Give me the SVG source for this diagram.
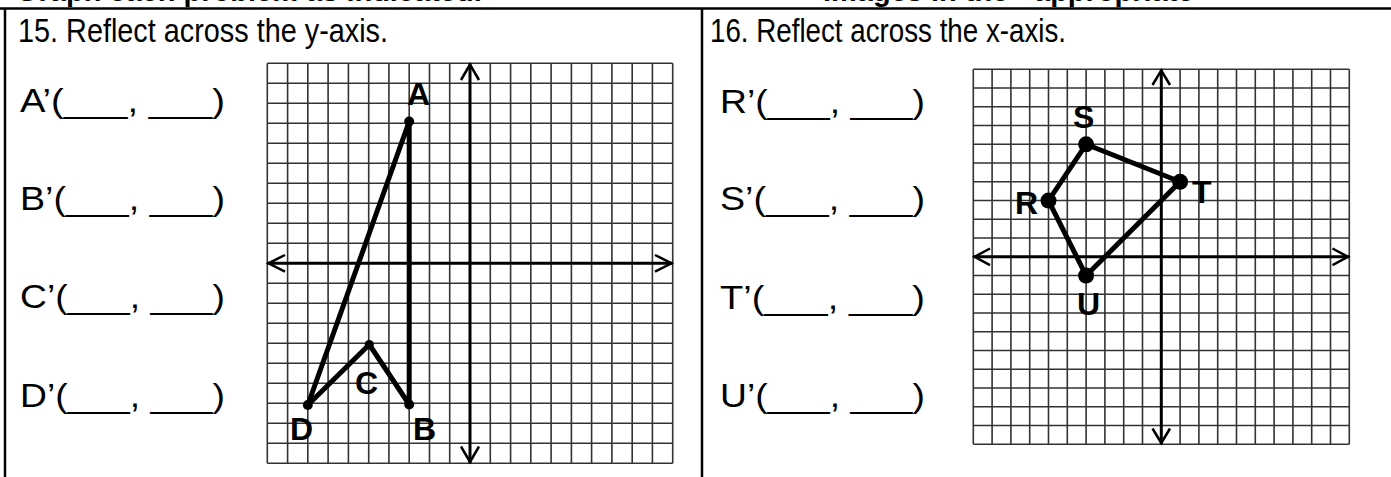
<svg xmlns="http://www.w3.org/2000/svg" width="1391" height="477" viewBox="0 0 1391 477">
<style>
.t{font-family:"Liberation Sans",Arial,sans-serif;font-size:33px;fill:#000}
.hd{font-family:"Liberation Sans",Arial,sans-serif;font-size:29px;font-weight:bold;fill:#000}
.lb{font-family:"Liberation Sans",Arial,sans-serif;font-size:32px;font-weight:bold;fill:#000}
.grid{fill:none;stroke:#333;stroke-width:1.6}
.axis{fill:none;stroke:#000;stroke-width:3}
.arr{fill:none;stroke:#000;stroke-width:2.5;stroke-linejoin:miter}
.fig{fill:none;stroke:#000;stroke-width:5;stroke-linejoin:round;stroke-linecap:round}
.frame{fill:none;stroke:#000;stroke-width:2.5}
</style>
<rect x="0" y="0" width="1391" height="477" fill="#fff"/>
<g id="header">
<text class="hd" x="16" y="1">Graph each problem as indicated.</text>
<text class="hd" x="823" y="1">images in the</text>
<text class="hd" x="1034" y="1">appropriate</text>
</g>
<g id="frame">
<path class="frame" d="M0,8.5 H1391 M5,8 V477 M702,8 V477"/>
</g>
<g id="left-panel">
<text class="t" x="18" y="42" textLength="370" lengthAdjust="spacingAndGlyphs">15. Reflect across the y-axis.</text>
<text class="t" x="20" y="112" textLength="205" lengthAdjust="spacingAndGlyphs">A’(___, ___)</text>
<text class="t" x="20" y="210" textLength="205" lengthAdjust="spacingAndGlyphs">B’(___, ___)</text>
<text class="t" x="20" y="308" textLength="205" lengthAdjust="spacingAndGlyphs">C’(___, ___)</text>
<text class="t" x="20" y="407" textLength="205" lengthAdjust="spacingAndGlyphs">D’(___, ___)</text>
</g>
<g id="right-panel">
<text class="t" x="710" y="42" textLength="356" lengthAdjust="spacingAndGlyphs">16. Reflect across the x-axis.</text>
<text class="t" x="720" y="113" textLength="205" lengthAdjust="spacingAndGlyphs">R’(___, ___)</text>
<text class="t" x="720" y="210" textLength="205" lengthAdjust="spacingAndGlyphs">S’(___, ___)</text>
<text class="t" x="720" y="309" textLength="205" lengthAdjust="spacingAndGlyphs">T’(___, ___)</text>
<text class="t" x="720" y="407" textLength="205" lengthAdjust="spacingAndGlyphs">U’(___, ___)</text>
</g>
<g id="grid-left">
<path class="grid" d="M267.3,63.3V463.3M287.6,63.3V463.3M307.8,63.3V463.3M328.1,63.3V463.3M348.4,63.3V463.3M368.7,63.3V463.3M388.9,63.3V463.3M409.2,63.3V463.3M429.5,63.3V463.3M449.7,63.3V463.3M490.3,63.3V463.3M510.6,63.3V463.3M530.8,63.3V463.3M551.1,63.3V463.3M571.4,63.3V463.3M591.6,63.3V463.3M611.9,63.3V463.3M632.2,63.3V463.3M652.4,63.3V463.3M672.7,63.3V463.3
M267.3,63.3H672.7M267.3,83.3H672.7M267.3,103.3H672.7M267.3,123.3H672.7M267.3,143.3H672.7M267.3,163.3H672.7M267.3,183.3H672.7M267.3,203.3H672.7M267.3,223.3H672.7M267.3,243.3H672.7M267.3,283.3H672.7M267.3,303.3H672.7M267.3,323.3H672.7M267.3,343.3H672.7M267.3,363.3H672.7M267.3,383.3H672.7M267.3,403.3H672.7M267.3,423.3H672.7M267.3,443.3H672.7M267.3,463.3H672.7"/>
<path class="axis" d="M267.3,263.3H672.7M470,63.3V463.3"/>
<path class="arr" d="M285,255L268.5,263.3L285,271.6M655,255L671.5,263.3L655,271.6M461,80L470,64.5L479,80M461,446.5L470,462L479,446.5"/>
</g>
<g id="grid-right">
<path class="grid" d="M973.3,69.3V444.3M992.1,69.3V444.3M1010.9,69.3V444.3M1029.7,69.3V444.3M1048.5,69.3V444.3M1067.3,69.3V444.3M1086.1,69.3V444.3M1104.9,69.3V444.3M1123.7,69.3V444.3M1142.5,69.3V444.3M1180.1,69.3V444.3M1198.9,69.3V444.3M1217.7,69.3V444.3M1236.5,69.3V444.3M1255.3,69.3V444.3M1274.1,69.3V444.3M1292.9,69.3V444.3M1311.7,69.3V444.3M1330.5,69.3V444.3M1349.3,69.3V444.3
M973.3,69.3H1349.3M973.3,88.05H1349.3M973.3,106.8H1349.3M973.3,125.55H1349.3M973.3,144.3H1349.3M973.3,163.05H1349.3M973.3,181.8H1349.3M973.3,200.55H1349.3M973.3,219.3H1349.3M973.3,238.05H1349.3M973.3,275.55H1349.3M973.3,294.3H1349.3M973.3,313.05H1349.3M973.3,331.8H1349.3M973.3,350.55H1349.3M973.3,369.3H1349.3M973.3,388.05H1349.3M973.3,406.8H1349.3M973.3,425.55H1349.3M973.3,444.3H1349.3"/>
<path class="axis" d="M973.3,256.8H1349.3M1161.3,69.3V444.3"/>
<path class="arr" d="M990,248.5L974.5,256.8L990,265.1M1332.5,248.5L1348,256.8L1332.5,265.1M1152.5,85L1161.3,70.5L1170,85M1152.5,428.5L1161.3,443L1170,428.5"/>
</g>
<g id="connectors">
<path class="fig" d="M409.2,121.5L409.2,404.5L369.3,344.5L307.8,405Z"/>
<path class="fig" stroke-width="4.5" d="M1086.1,144.3L1180.1,181.8L1086.1,275.55L1048.5,200.55Z"/>
</g>
<g id="node-A"><circle cx="409.2" cy="121.5" r="5"/><text class="lb" x="407" y="105">A</text></g>
<g id="node-B"><circle cx="409.2" cy="404.5" r="5"/><text class="lb" x="413" y="440">B</text></g>
<g id="node-C"><circle cx="369.3" cy="344.5" r="4.5"/><text class="lb" x="355" y="394">C</text></g>
<g id="node-D"><circle cx="307.8" cy="405" r="5"/><text class="lb" x="290" y="440">D</text></g>
<g id="node-R"><circle cx="1048.5" cy="200.55" r="8"/><text class="lb" x="1015" y="214">R</text></g>
<g id="node-S"><circle cx="1086.1" cy="144.3" r="8"/><text class="lb" x="1073" y="128">S</text></g>
<g id="node-T"><circle cx="1180.1" cy="181.8" r="8"/><text class="lb" x="1192" y="203">T</text></g>
<g id="node-U"><circle cx="1086.1" cy="275.55" r="8"/><text class="lb" x="1077" y="315">U</text></g>
</svg>
